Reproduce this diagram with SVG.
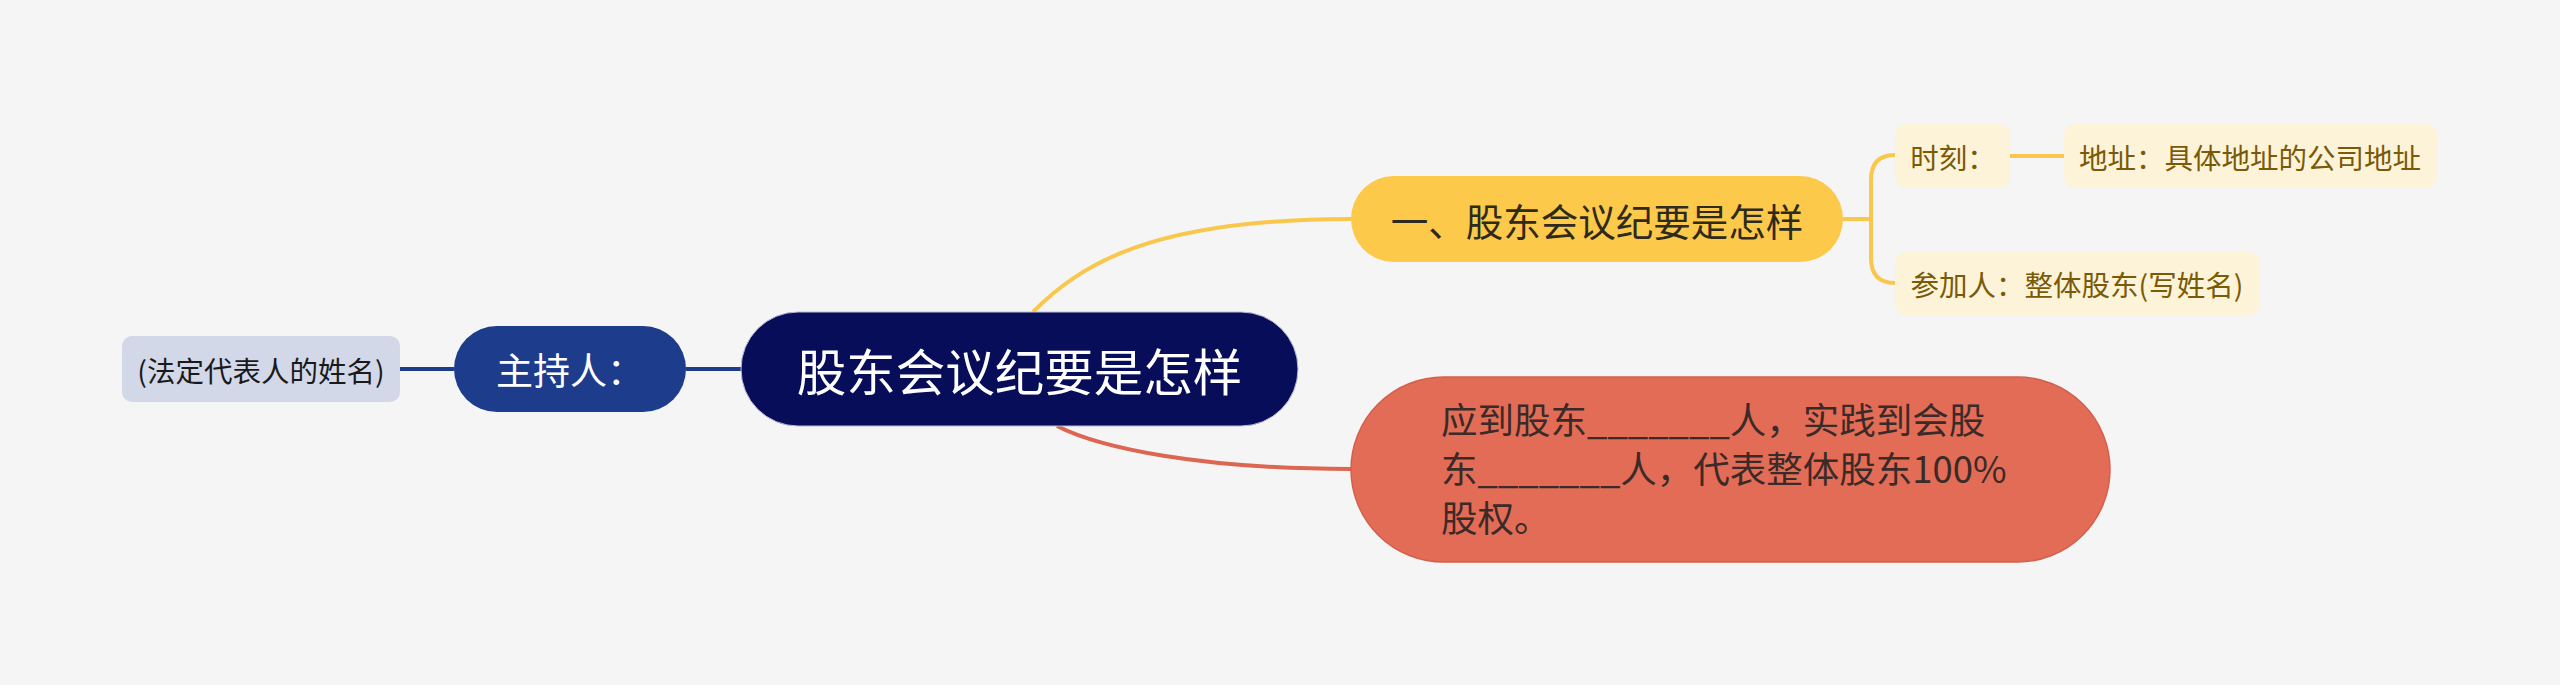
<svg xmlns="http://www.w3.org/2000/svg" width="2560" height="685" viewBox="0 0 2560 685">
<style>
text{font-family:"Noto Sans CJK SC","Noto Sans",sans-serif;}
.c{text-anchor:middle;dominant-baseline:central;}
.line{fill:none;}
</style>
<rect x="0" y="0" width="2560" height="685" fill="#f5f5f5"/>
<g id="connectors" class="line">
  <path d="M400 369 H454 M686 369 H741" stroke="#1e3c8c" stroke-width="4"/>
  <path d="M1033 312 C1080 265 1150 219 1351 219" stroke="#f9c74b" stroke-width="4"/>
  <path d="M1057 426 C1100 448 1200 469 1351 469" stroke="#dc6651" stroke-width="4"/>
  <path d="M1843 219 H1871 M1895 155 Q1871 155 1871 180 V258 Q1871 283 1895 283" stroke="#f9c74b" stroke-width="4"/>
  <path d="M2010 156 H2064" stroke="#f9c74b" stroke-width="4"/>
</g>
<g id="root">
  <rect x="741" y="312" width="557" height="114" rx="57" fill="#070d59" stroke="#b8bdd6" stroke-width="1"/>
  <text class="c" x="1019.5" y="369" font-size="49.5" fill="#ffffff">股东会议纪要是怎样</text>
</g>
<g id="host">
  <rect x="454" y="326" width="232" height="86" rx="43" fill="#1e3c8c"/>
  <text class="c" x="570" y="369" font-size="37" fill="#ffffff">主持人：</text>
</g>
<g id="host-name">
  <rect x="122" y="336" width="278" height="66" rx="10" fill="#d3d8e8"/>
  <text class="c" x="261" y="369" font-size="28.5" fill="#1a1a1a">(法定代表人的姓名)</text>
</g>
<g id="topic1">
  <rect x="1351" y="176" width="492" height="86" rx="43" fill="#fdc94b"/>
  <text class="c" x="1597" y="219" font-size="37.5" fill="#2e2a1c">一、股东会议纪要是怎样</text>
</g>
<g id="time">
  <rect x="1895" y="124" width="115" height="64" rx="11" fill="#fdf3d8"/>
  <text class="c" x="1953" y="156" font-size="28.5" fill="#7a5a06">时刻：</text>
</g>
<g id="address">
  <rect x="2064" y="124" width="373" height="64" rx="11" fill="#fdf3d8"/>
  <text class="c" x="2250" y="156" font-size="28.5" fill="#7a5a06">地址：具体地址的公司地址</text>
</g>
<g id="attendees">
  <rect x="1895" y="252" width="365" height="63" rx="11" fill="#fdf3d8"/>
  <text class="c" x="2077" y="283" font-size="28.5" fill="#7a5a06">参加人：整体股东(写姓名)</text>
</g>
<g id="topic2">
  <rect x="1351" y="377" width="759" height="185" rx="92.5" fill="#e36c56" stroke="#d2604c" stroke-width="1.5"/>
  <text x="1441" font-size="36.5" fill="#3a2a28">
    <tspan x="1441" y="434">应到股东_______人，实践到会股</tspan>
    <tspan x="1441" y="483">东_______人，代表整体股东100%</tspan>
    <tspan x="1441" y="532">股权。</tspan>
  </text>
</g>
</svg>
